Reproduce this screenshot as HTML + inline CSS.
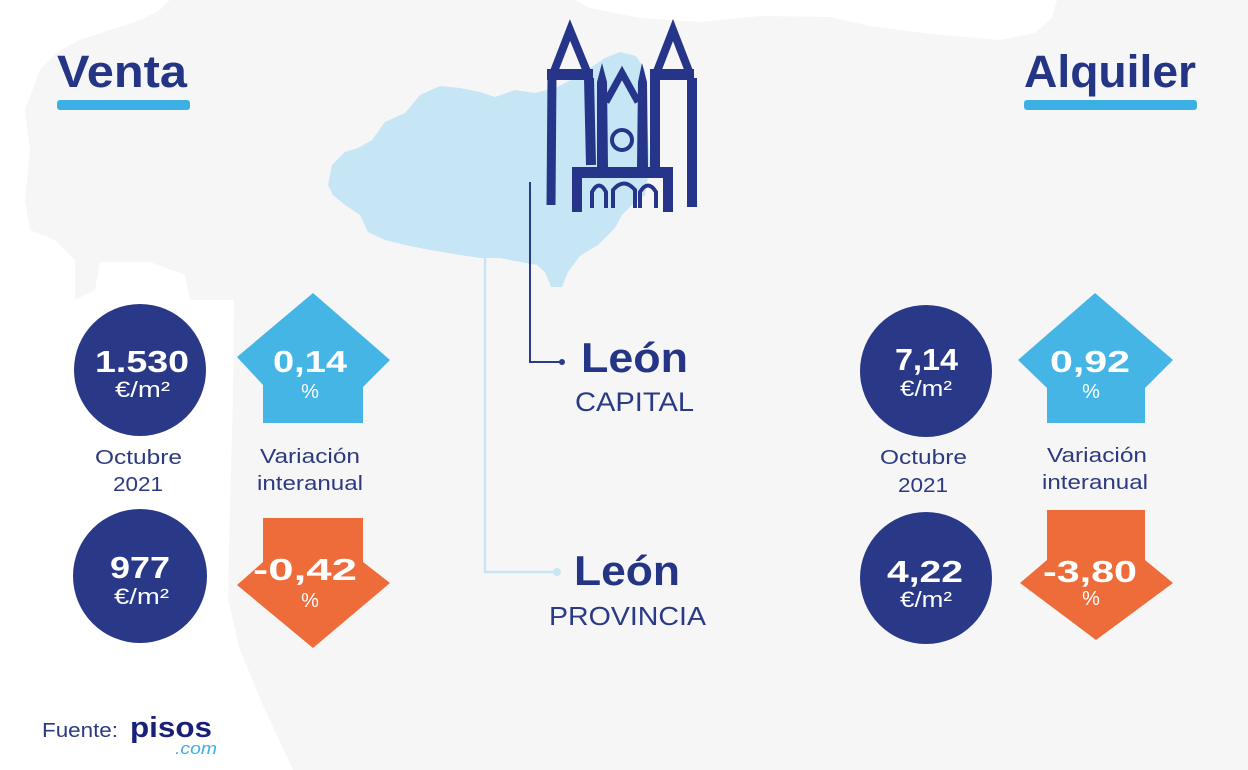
<!DOCTYPE html>
<html><head><meta charset="utf-8"><style>
html,body{margin:0;padding:0;background:#fff;}
svg{display:block;}
text{font-family:"Liberation Sans",sans-serif;}
</style></head><body>
<svg width="1248" height="770" viewBox="0 0 1248 770" xmlns="http://www.w3.org/2000/svg">
<rect width="1248" height="770" fill="#ffffff"/>
<!-- Spain map (gray) -->
<polygon fill="#f6f6f7" points="170,0 575,0 590,8 640,18 700,22 760,16 830,17 870,26 930,34 1000,40 1035,33 1052,18 1057,0 1248,0 1248,770 293,770 265,710 240,650 228,600 230,500 233,400 234,300 190,300 185,275 150,262 100,262 95,290 75,300 75,260 55,240 30,230 25,200 30,150 25,110 40,70 60,50 80,40 110,30 140,20 160,10"/>
<!-- León province (light blue) -->
<polygon fill="#c6e6f6" points="328,185 332,165 345,152 358,148 372,140 385,122 405,113 420,95 440,86 460,88 480,92 495,97 515,90 535,93 555,88 575,78 590,68 605,58 620,52 636,56 645,70 646,100 648,135 650,165 645,195 632,205 622,215 615,228 598,245 580,256 568,272 562,287 551,287 545,272 537,265 520,262 500,258 480,258 460,255 430,250 405,245 385,240 368,232 360,215 345,205 333,195"/>

<!-- connector lines -->
<polyline points="485,258 485,572 557,572" fill="none" stroke="#c6e6f6" stroke-width="2.5"/>
<circle cx="557" cy="572" r="4" fill="#c6e6f6"/>
<polyline points="530,182 530,362 562,362" fill="none" stroke="#2b3b8a" stroke-width="2"/>
<circle cx="562" cy="362" r="3" fill="#2b3b8a"/>

<!-- Cathedral -->
<g stroke="#26358a" fill="none">
  <polyline points="553,74 570,30 588,74" stroke-width="8" stroke-linejoin="miter"/>
  <polyline points="656,74 673,30 690,74" stroke-width="8" stroke-linejoin="miter"/>
  <line x1="552" y1="75" x2="551" y2="205" stroke-width="9"/>
  <line x1="589" y1="78" x2="591" y2="165" stroke-width="10"/>
  <line x1="655" y1="78" x2="655" y2="167" stroke-width="10"/>
  <line x1="692" y1="78" x2="692" y2="207" stroke-width="10"/>
  <polyline points="606,102 622,73 638,102" stroke-width="7"/>
  <circle cx="622" cy="140" r="10" stroke-width="4"/>
  <path d="M592,208 V192 Q599,179 606,192 V208" stroke-width="4"/>
  <path d="M613,208 V190 Q624,177 635,190 V208" stroke-width="4"/>
  <path d="M640,208 V192 Q648,179 656,192 V208" stroke-width="4"/>
</g>
<g fill="#26358a">
  <rect x="547" y="69" width="46" height="11"/>
  <rect x="650" y="69" width="44" height="11"/>
  <polygon points="597,167 597,82 602,63 607,82 608,167"/>
  <polygon points="637,167 638,82 642,63 647,82 648,167"/>
  <rect x="572" y="167" width="101" height="11"/>
  <rect x="572" y="176" width="10" height="36"/>
  <rect x="663" y="176" width="10" height="36"/>
</g>

<!-- Headings -->
<text x="57" y="87" font-size="45" font-weight="bold" fill="#233584" textLength="130" lengthAdjust="spacingAndGlyphs">Venta</text>
<rect x="57" y="100" width="133" height="10" rx="3" fill="#3cb0e4"/>
<text x="1024" y="87" font-size="45" font-weight="bold" fill="#233584" textLength="172" lengthAdjust="spacingAndGlyphs">Alquiler</text>
<rect x="1024" y="100" width="173" height="10" rx="3" fill="#3cb0e4"/>

<!-- León labels -->
<text x="581" y="372" font-size="42" font-weight="bold" fill="#253585" textLength="107" lengthAdjust="spacingAndGlyphs">León</text>
<text x="575" y="411" font-size="27" fill="#2a3a85" textLength="119" lengthAdjust="spacingAndGlyphs">CAPITAL</text>
<text x="574" y="585" font-size="42" font-weight="bold" fill="#253585" textLength="106" lengthAdjust="spacingAndGlyphs">León</text>
<text x="549" y="625" font-size="26" fill="#2a3a85" textLength="157" lengthAdjust="spacingAndGlyphs">PROVINCIA</text>

<!-- Left column -->
<circle cx="140" cy="370" r="66" fill="#293887"/>
<circle cx="140" cy="576" r="67" fill="#293887"/>
<polygon fill="#45b5e6" points="313,293 390,360 363,387 363,423 263,423 263,385 237,357"/>
<polygon fill="#ee6b3a" points="263,518 363,518 363,562 390,583 313,648 237,585 263,562"/>
<g fill="#ffffff">
  <text x="95" y="372" font-size="31" font-weight="bold" textLength="94" lengthAdjust="spacingAndGlyphs">1.530</text>
  <text x="115" y="397" font-size="22" textLength="55" lengthAdjust="spacingAndGlyphs">€/m²</text>
  <text x="110" y="578" font-size="31" font-weight="bold" textLength="60" lengthAdjust="spacingAndGlyphs">977</text>
  <text x="114" y="604" font-size="22" textLength="55" lengthAdjust="spacingAndGlyphs">€/m²</text>
  <text x="273" y="372" font-size="31" font-weight="bold" textLength="74" lengthAdjust="spacingAndGlyphs">0,14</text>
  <text x="310" y="398" font-size="20" text-anchor="middle">%</text>
  <text x="253" y="580" font-size="31" font-weight="bold" textLength="104" lengthAdjust="spacingAndGlyphs">-0,42</text>
  <text x="310" y="607" font-size="20" text-anchor="middle">%</text>
</g>
<g fill="#2d3a80" font-size="20">
  <text x="95" y="464" textLength="87" lengthAdjust="spacingAndGlyphs">Octubre</text>
  <text x="113" y="491" textLength="50" lengthAdjust="spacingAndGlyphs">2021</text>
  <text x="260" y="463" textLength="100" lengthAdjust="spacingAndGlyphs">Variación</text>
  <text x="257" y="490" textLength="106" lengthAdjust="spacingAndGlyphs">interanual</text>
</g>

<!-- Right column -->
<circle cx="926" cy="371" r="66" fill="#293887"/>
<circle cx="926" cy="578" r="66" fill="#293887"/>
<polygon fill="#45b5e6" points="1095,293 1173,360 1145,388 1145,423 1047,423 1047,388 1018,360"/>
<polygon fill="#ee6b3a" points="1047,510 1145,510 1145,560 1173,583 1096,640 1020,583 1047,560"/>
<g fill="#ffffff">
  <text x="895" y="370" font-size="31" font-weight="bold" textLength="63" lengthAdjust="spacingAndGlyphs">7,14</text>
  <text x="900" y="396" font-size="22" textLength="52" lengthAdjust="spacingAndGlyphs">€/m²</text>
  <text x="887" y="582" font-size="31" font-weight="bold" textLength="76" lengthAdjust="spacingAndGlyphs">4,22</text>
  <text x="900" y="607" font-size="22" textLength="52" lengthAdjust="spacingAndGlyphs">€/m²</text>
  <text x="1050" y="372" font-size="31" font-weight="bold" textLength="80" lengthAdjust="spacingAndGlyphs">0,92</text>
  <text x="1091" y="398" font-size="20" text-anchor="middle">%</text>
  <text x="1043" y="582" font-size="31" font-weight="bold" textLength="94" lengthAdjust="spacingAndGlyphs">-3,80</text>
  <text x="1091" y="605" font-size="20" text-anchor="middle">%</text>
</g>
<g fill="#2d3a80" font-size="20">
  <text x="880" y="464" textLength="87" lengthAdjust="spacingAndGlyphs">Octubre</text>
  <text x="898" y="492" textLength="50" lengthAdjust="spacingAndGlyphs">2021</text>
  <text x="1047" y="462" textLength="100" lengthAdjust="spacingAndGlyphs">Variación</text>
  <text x="1042" y="489" textLength="106" lengthAdjust="spacingAndGlyphs">interanual</text>
</g>

<!-- Footer -->
<text x="42" y="737" font-size="20" fill="#2d3a80" textLength="76" lengthAdjust="spacingAndGlyphs">Fuente:</text>
<text x="130" y="737" font-size="29" font-weight="bold" fill="#1a1f7c" textLength="82" lengthAdjust="spacingAndGlyphs">pisos</text>
<text x="175" y="754" font-size="17" font-style="italic" fill="#3cb0e4" textLength="42" lengthAdjust="spacingAndGlyphs">.com</text>
</svg>
</body></html>
